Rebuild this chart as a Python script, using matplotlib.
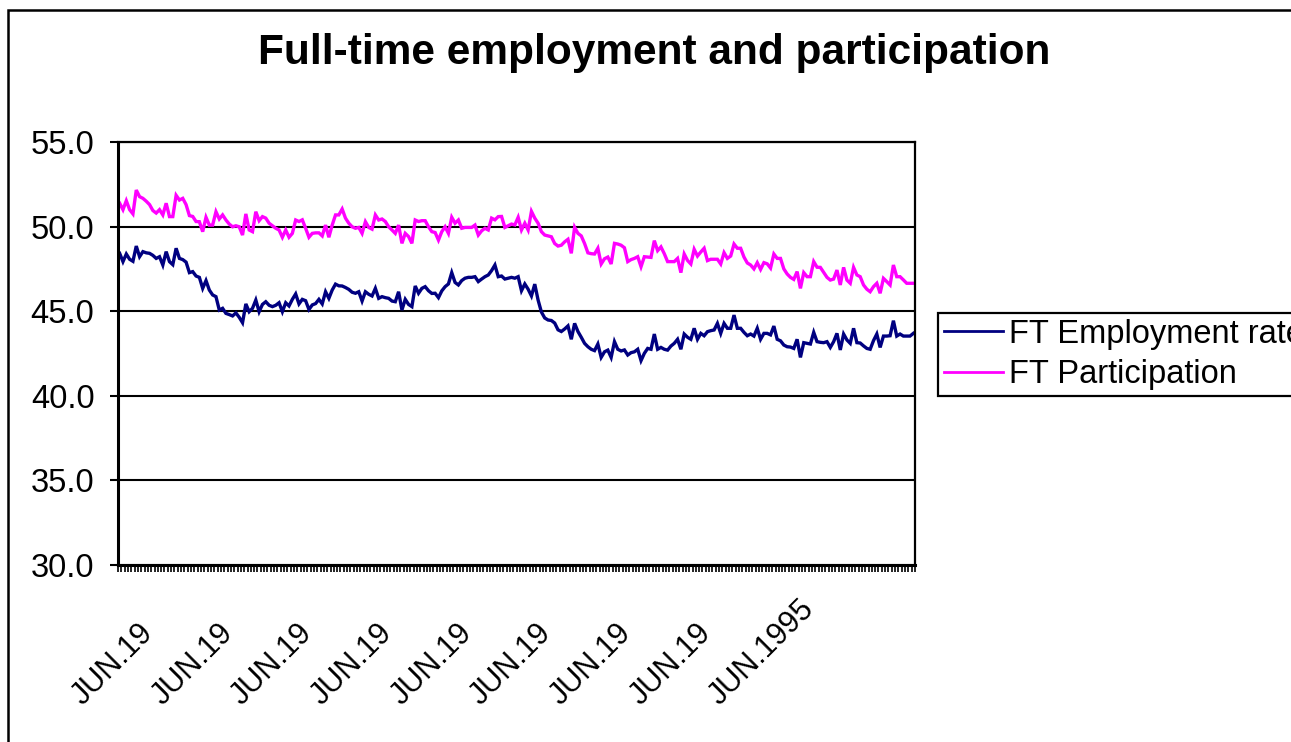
import numpy as np
import matplotlib
matplotlib.use("Agg")
import matplotlib.pyplot as plt
from matplotlib.patches import Rectangle
from matplotlib.transforms import blended_transform_factory, ScaledTranslation

plt.rcParams['font.family'] = ['Liberation Sans', 'DejaVu Sans']

title = "Full-time employment and participation"
series_names = ["FT Employment rate", "FT Participation"]

ft_employment_rate = [
    48.42, 47.93, 48.38, 48.07, 47.95, 48.85, 48.22, 48.52, 48.45, 48.42,
    48.30, 48.12, 48.22, 47.73, 48.52, 47.93, 47.75, 48.72, 48.12, 48.05,
    47.90, 47.28, 47.34, 47.08, 47.00, 46.35, 46.81, 46.25, 45.96, 45.86,
    45.07, 45.17, 44.87, 44.80, 44.72, 44.90, 44.64, 44.32, 45.43, 44.97,
    45.17, 45.66, 44.97, 45.40, 45.56, 45.35, 45.27, 45.35, 45.50, 44.97,
    45.50, 45.31, 45.70, 46.02, 45.43, 45.70, 45.62, 45.10, 45.37, 45.45,
    45.70, 45.43, 46.15, 45.76, 46.25, 46.60, 46.50, 46.49, 46.40, 46.29,
    46.12, 46.06, 46.15, 45.60, 46.15, 46.00, 45.90, 46.35, 45.76, 45.86,
    45.80, 45.76, 45.60, 45.56, 46.15, 45.07, 45.70, 45.40, 45.27, 46.49,
    46.06, 46.35, 46.45, 46.21, 46.05, 46.06, 45.80, 46.20, 46.45, 46.61,
    47.28, 46.70, 46.55, 46.81, 46.95, 47.00, 47.00, 47.04, 46.75, 46.90,
    47.04, 47.14, 47.40, 47.73, 47.04, 47.08, 46.90, 46.95, 47.00, 46.95,
    47.04, 46.21, 46.61, 46.30, 45.90, 46.60, 45.66, 44.95, 44.60, 44.48,
    44.45, 44.30, 43.90, 43.80, 43.95, 44.13, 43.34, 44.28, 43.80, 43.46,
    43.10, 42.90, 42.75, 42.67, 43.06, 42.27, 42.60, 42.70, 42.27, 43.20,
    42.75, 42.65, 42.71, 42.41, 42.55, 42.60, 42.75, 42.08, 42.51, 42.80,
    42.75, 43.65, 42.75, 42.86, 42.75, 42.70, 42.94, 43.10, 43.34, 42.75,
    43.65, 43.46, 43.34, 43.99, 43.34, 43.69, 43.55, 43.79, 43.85, 43.89,
    44.28, 43.69, 44.28, 43.99, 43.99, 44.77, 43.99, 43.99, 43.75, 43.55,
    43.65, 43.53, 43.99, 43.34, 43.69, 43.69, 43.60, 44.12, 43.34, 43.25,
    43.00, 42.90, 42.88, 42.80, 43.34, 42.27, 43.14, 43.10, 43.06, 43.75,
    43.20, 43.16, 43.14, 43.20, 42.86, 43.20, 43.69, 42.71, 43.65, 43.30,
    43.10, 43.99, 43.14, 43.12, 42.95, 42.80, 42.75, 43.26, 43.65, 42.86,
    43.53, 43.53, 43.55, 44.44, 43.53, 43.65, 43.53, 43.53, 43.53, 43.69,
]

ft_participation = [
    51.38, 51.00, 51.53, 51.00, 50.75, 52.16, 51.77, 51.67, 51.50, 51.30,
    50.95, 50.80, 51.00, 50.69, 51.38, 50.59, 50.59, 51.85, 51.57, 51.67,
    51.30, 50.65, 50.60, 50.30, 50.29, 49.70, 50.55, 50.09, 50.09, 50.88,
    50.45, 50.69, 50.39, 50.15, 49.99, 50.05, 49.99, 49.50, 50.75, 49.80,
    49.70, 50.88, 50.35, 50.59, 50.50, 50.20, 50.05, 49.90, 49.80, 49.37,
    49.80, 49.37, 49.60, 50.39, 50.30, 50.40, 49.90, 49.37, 49.60, 49.63,
    49.63, 49.45, 50.09, 49.37, 50.09, 50.69, 50.69, 51.04, 50.50, 50.20,
    49.99, 49.90, 49.95, 49.60, 50.29, 49.95, 49.85, 50.69, 50.39, 50.45,
    50.30, 49.99, 49.80, 49.60, 50.09, 49.01, 49.60, 49.41, 49.01, 50.39,
    50.30, 50.35, 50.35, 49.99, 49.70, 49.65, 49.20, 49.70, 49.99, 49.60,
    50.55, 50.20, 50.39, 49.90, 49.95, 49.95, 49.95, 50.09, 49.50, 49.75,
    49.90, 49.80, 50.50, 50.40, 50.59, 50.60, 49.95, 50.05, 50.15, 50.10,
    50.55, 49.80, 50.20, 49.80, 50.90, 50.50, 50.20, 49.70, 49.50, 49.45,
    49.40, 49.00, 48.85, 48.90, 49.10, 49.25, 48.42, 49.96, 49.60, 49.45,
    49.00, 48.45, 48.40, 48.38, 48.72, 47.79, 48.10, 48.20, 47.79, 49.01,
    48.97, 48.90, 48.75, 47.93, 48.05, 48.12, 48.22, 47.63, 48.22, 48.20,
    48.18, 49.17, 48.58, 48.80, 48.40, 47.93, 47.93, 47.93, 48.12, 47.28,
    48.38, 48.00, 47.79, 48.66, 48.26, 48.50, 48.72, 47.99, 48.07, 48.07,
    48.07, 47.79, 48.46, 48.12, 48.26, 48.97, 48.72, 48.72, 48.20, 47.85,
    47.73, 47.50, 47.87, 47.47, 47.87, 47.80, 47.55, 48.38, 48.12, 48.12,
    47.50, 47.20, 47.00, 46.88, 47.34, 46.35, 47.28, 47.04, 47.04, 47.93,
    47.60, 47.59, 47.30, 47.00, 46.84, 46.90, 47.43, 46.55, 47.59, 46.84,
    46.65, 47.59, 47.14, 47.04, 46.55, 46.30, 46.15, 46.45, 46.65, 46.06,
    46.94, 46.75, 46.55, 47.73, 47.04, 47.04, 46.85, 46.65, 46.65, 46.65,
]

x_label_index = [18, 42, 66, 90, 114, 138, 162, 186, 210]
x_labels = ["JUN.19", "JUN.19", "JUN.19", "JUN.19", "JUN.19",
            "JUN.19", "JUN.19", "JUN.19", "JUN.1995"]
y_ticks = [30.0, 35.0, 40.0, 45.0, 50.0, 55.0]

W, H = 1291, 742
fig = plt.figure(figsize=(W / 100, H / 100), dpi=100)
fig.patch.set_facecolor('white')

ax = fig.add_axes([118 / W, 1 - 565 / H, 797 / W, 423 / H])
n = len(ft_employment_rate)
x = np.arange(n)
l1, = ax.plot(x, ft_employment_rate, color='#000080', lw=2.4, solid_joinstyle='miter')
l2, = ax.plot(x, ft_participation, color='#FF00FF', lw=2.4, solid_joinstyle='miter')

ax.set_xlim(-0.5, n - 0.5)
ax.set_ylim(30, 55)
ax.set_yticks(y_ticks)
ax.set_yticklabels([f"{v:.1f}" for v in y_ticks], fontsize=23.5)
ax.tick_params(axis='y', direction='out', length=6, width=1.5, pad=11, color='black')
ax.yaxis.grid(True, color='black', lw=1.5)
ax.set_axisbelow(True)

ax.set_xticks([])
ax.set_xticks(np.arange(-0.5, n, 1.0), minor=True)
ax.tick_params(axis='x', which='minor', direction='out', length=5, width=1.2, color='black')

for s in ['left', 'bottom']:
    ax.spines[s].set_linewidth(2.2)
for s in ['right', 'top']:
    ax.spines[s].set_linewidth(1.6)
for s in ax.spines.values():
    s.set_color('black')

trans = blended_transform_factory(ax.transData, ax.transAxes) + \
    ScaledTranslation(-97 / 100, -141 / 100, fig.dpi_scale_trans)
for idx, lab in zip(x_label_index, x_labels):
    ax.text(idx, 0, lab, transform=trans, rotation=45, rotation_mode='anchor',
            ha='left', va='baseline', fontsize=22, clip_on=False)

fig.text(654 / W, 1 - 53 / H, title, ha='center', va='center',
         fontsize=30.5, fontweight='bold')

leg = fig.legend([l1, l2], series_names, loc='upper left',
                 bbox_to_anchor=(938 / W, 1 - 313 / H), bbox_transform=fig.transFigure,
                 frameon=True, fancybox=False, edgecolor='black', framealpha=1,
                 borderaxespad=0, fontsize=23.5, handlelength=1.8, handletextpad=0.2,
                 labelspacing=0.28, borderpad=0.18)
leg.get_frame().set_linewidth(1.6)
for lh in leg.get_lines():
    lh.set_linewidth(2.0)

fig.patches.append(Rectangle((8 / W, -0.1), 1.2, 1.1 - 10 / H, transform=fig.transFigure,
                             fill=False, ec='black', lw=1.8))

fig.savefig("out.png", dpi=100)
